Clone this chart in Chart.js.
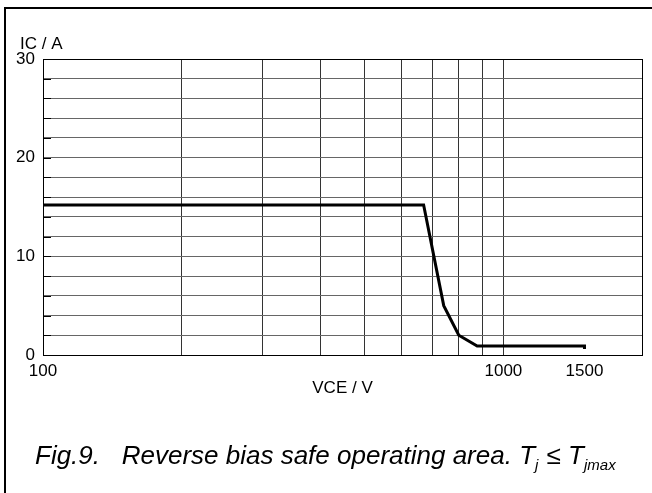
<!DOCTYPE html>
<html><head><meta charset="utf-8">
<script src="https://cdn.jsdelivr.net/npm/chart.js@4.4.1/dist/chart.umd.min.js"></script>
<style>html,body{margin:0;padding:0;background:#fff}#wrap{width:652px;height:493px;position:relative}</style>
</head><body><div id="wrap"><canvas id="c" width="652" height="493"></canvas></div>
<script>
// Data
const vceValues = [100, 671, 742, 800, 877, 1500, 1500];
const icValues  = [15.2, 15.2, 5, 2, 0.9, 0.9, 0.6];
const xGridTicks = [100, 200, 300, 400, 500, 600, 700, 800, 900, 1000, 1500, 2000];
const xLabelTicks = [100, 1000, 1500];
const yLabelTicks = [0, 10, 20, 30];
const xTitle = 'VCE / V';
const yTitle = 'IC / A';
const captionParts = ['Fig.9.   Reverse bias safe operating area. T', 'j', ' \u2264 T', 'jmax'];

const FONT = '"Liberation Sans", Arial, sans-serif';

const decor = {
  id: 'decor',
  beforeDraw(chart) {
    const ctx = chart.ctx;
    ctx.save();
    ctx.fillStyle = '#fff';
    ctx.fillRect(0, 0, chart.width, chart.height);
    ctx.strokeStyle = '#000';
    ctx.lineWidth = 2;
    ctx.beginPath();
    ctx.moveTo(5, 493);
    ctx.lineTo(5, 8);
    ctx.lineTo(652, 8);
    ctx.stroke();
    ctx.restore();
  },
  afterDatasetsDraw(chart) {
    const ctx = chart.ctx;
    const y = chart.scales.y;
    const area = chart.chartArea;
    ctx.save();
    ctx.strokeStyle = '#000';
    ctx.lineWidth = 1;
    for (let v = 0; v <= 30; v += 2) {
      const py = Math.round(y.getPixelForValue(v)) + 0.5;
      ctx.beginPath();
      ctx.moveTo(area.left, py);
      ctx.lineTo(area.left + 8, py);
      ctx.stroke();
    }
    // y title
    ctx.fillStyle = '#000';
    ctx.font = '17px ' + FONT;
    ctx.textBaseline = 'middle';
    ctx.textAlign = 'left';
    ctx.fillText(yTitle, 20, 44);
    // caption
    let x = 35;
    const base = 464;
    captionParts.forEach((t, i) => {
      const sub = i % 2 === 1;
      ctx.font = 'italic ' + (sub ? 15 : 26) + 'px ' + FONT;
      ctx.textBaseline = 'alphabetic';
      ctx.fillText(t, x, base + (sub ? 6 : 0));
      x += ctx.measureText(t).width + (sub ? 1 : 0);
    });
    ctx.restore();
  }
};

new Chart(document.getElementById('c'), {
  type: 'line',
  data: {
    datasets: [{
      data: vceValues.map((v, i) => ({x: v, y: icValues[i]})),
      borderColor: '#000',
      borderWidth: 3,
      pointRadius: 0,
      tension: 0,
      fill: false,
      borderJoinStyle: 'miter',
      borderCapStyle: 'butt'
    }]
  },
  options: {
    responsive: false,
    animation: false,
    devicePixelRatio: 1,
    layout: {padding: {left: 0, top: 59, right: 10, bottom: 94}},
    plugins: {legend: {display: false}, tooltip: {enabled: false}, title: {display: false}},
    scales: {
      x: {
        type: 'logarithmic',
        min: 100, max: 2000,
        afterBuildTicks: s => { s.ticks = xGridTicks.map(v => ({value: v})); },
        afterFit: s => { s.height = 44; },
        ticks: {
          autoSkip: false, maxRotation: 0, padding: 6, color: '#000',
          font: {family: FONT, size: 17},
          callback: v => xLabelTicks.includes(v) ? String(v) : ''
        },
        grid: {
          drawTicks: false,
          color: c => (c.tick && (c.tick.value === 1500)) ? 'rgba(0,0,0,0)' : (c.tick && c.tick.value === 2000 ? '#000' : '#333'),
          lineWidth: 1
        },
        border: {display: true, color: '#000', width: 1},
        title: {display: true, text: xTitle, color: '#000', font: {family: FONT, size: 17}, padding: {top: 0, bottom: 0}}
      },
      y: {
        type: 'linear',
        min: 0, max: 30,
        afterBuildTicks: s => { const t = []; for (let v = 0; v <= 30; v += 2) t.push({value: v}); s.ticks = t; },
        afterFit: s => { s.width = 43; },
        ticks: {
          autoSkip: false, padding: 8, color: '#000',
          font: {family: FONT, size: 17},
          callback: v => yLabelTicks.includes(v) ? String(v) : ''
        },
        grid: {
          drawTicks: false,
          color: c => (c.tick && c.tick.value === 30) ? '#000' : '#666',
          lineWidth: 1
        },
        border: {display: true, color: '#000', width: 1}
      }
    }
  },
  plugins: [decor]
});
</script>
</body></html>
